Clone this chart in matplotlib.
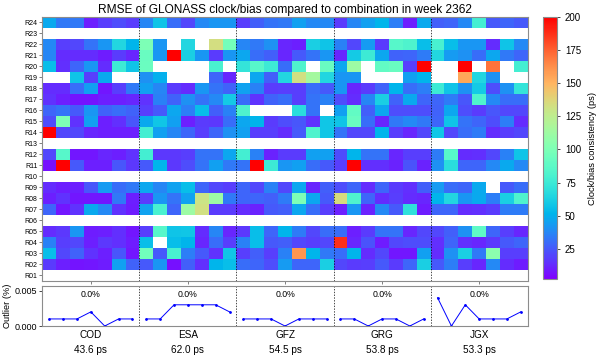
import numpy as np
import matplotlib
matplotlib.use('Agg')
import matplotlib.pyplot as plt

plt.rcParams['font.family'] = ['Liberation Sans', 'DejaVu Sans']

n = np.nan
centers = ['COD', 'ESA', 'GFZ', 'GRG', 'JGX']
mean_rmse = ['43.6 ps', '62.0 ps', '54.5 ps', '53.8 ps', '53.3 ps']
outlier_text = ['0.0%', '0.0%', '0.0%', '0.0%', '0.0%']
sats = ['R%02d' % i for i in range(1, 25)]
empty = [n] * 7

# RMSE per satellite (rows R24 at top down to R01) and day (7 columns), in ps
cod = [[48, 33, 33, 10, 18, 22, 18], empty,
       [38, 18, 20, 32, 42, 65, 52], [37, 13, 13, 13, 9, 17, 12],
       [55, 14, 28, 42, 13, 75, 57], [n, n, 57, 18, 48, n, n],
       [13, 13, 30, 45, 8, 18, 33], [15, 10, 7, 7, 10, 10, 12],
       [28, 32, 25, 42, 27, 30, 27], [22, 100, 15, 45, 10, 14, 24],
       [230, 20, 20, 12, 10, 10, 10], empty,
       [20, 85, 8, 8, 12, 10, 15], [6, 230, 25, 10, 10, 24, 16], empty,
       [13, 10, 10, 24, 43, 30, 33], [10, 15, 8, 8, 8, 33, 10],
       [28, 8, 15, 48, 38, 15, 9], empty,
       [13, 16, 42, 9, 10, 14, 8], [36, 18, 20, 10, 16, 14, 9],
       [55, 20, 27, 15, 10, 24, 8], [17, 10, 7, 8, 9, 45, 27], empty]

esa = [[37, 57, 30, 20, 38, 42, 42], empty,
       [100, 42, n, 65, n, 133, 97], [92, 42, 230, 62, 42, 17, 42],
       [93, n, n, n, n, 80, n], [40, 50, n, n, n, 28, 12],
       [45, 37, 17, 13, 42, 32, 27], [15, 36, 27, 40, 32, 38, 60],
       [18, 25, 47, 35, 55, 26, 36], [48, 58, 45, 10, 17, 16, 30],
       [78, 45, 37, 28, 18, 28, 40], empty,
       [78, 16, 16, 18, 32, 32, 47], [25, 52, 16, 22, 32, 45, 33], empty,
       [47, 37, 46, 55, 28, 20, 18], [17, 42, 32, 46, 130, 112, 33],
       [46, 80, 28, 112, 132, 17, 17], empty,
       [18, 85, 57, 58, 13, 37, 12], [55, n, 55, 52, 12, 30, 18],
       [95, 25, 80, 35, 25, 15, 58], [25, 42, 6, 26, 14, 52, 55], empty]

gfz = [[18, 26, 32, 33, 45, 38, 38], empty,
       [37, 33, 40, 12, 10, 62, 57], [47, 30, 26, 12, 25, 32, 42],
       [72, 85, 75, 30, 82, n, 92], [n, 47, 26, 65, 132, 115, 65],
       [46, 36, 17, 18, 18, 30, 25], [30, 15, 27, 30, 18, 32, 36],
       [82, n, n, n, 68, 32, n], [47, 52, 17, 22, 24, 15, 58],
       [45, 18, 18, 13, 25, 82, 58], empty,
       [78, 36, 11, 17, 17, 45, 45], [32, 230, 75, 42, 45, 30, 25], empty,
       [28, 20, 36, 20, 47, 12, 26], [28, 28, 26, 34, 100, 47, 25],
       [13, 11, 25, 26, 47, 30, 18], empty,
       [16, 55, 28, 52, 34, 20, 30], [36, 55, 25, 26, 20, 18, 20],
       [18, 26, 18, 36, 160, 52, 33], [30, 28, 22, 43, 28, 28, 62], empty]

grg = [[17, 37, 45, 52, 35, 10, 48], empty,
       [36, 20, 43, 17, 85, 82, 55], [12, 60, 75, 47, 27, 28, 34],
       [47, 112, n, 90, 92, 18, 230], [42, 42, n, n, n, 45, 52],
       [42, 12, 17, 27, 52, 30, 35], [22, 13, 37, 62, 27, 48, 28],
       [45, 90, 26, 47, 22, 22, 22], [57, 92, 30, 12, 33, 38, 33],
       [32, 20, 20, 52, 18, 12, 20], empty,
       [22, 52, 32, 32, 12, 18, 18], [18, 230, 14, 14, 11, 23, 11], empty,
       [22, 28, 13, 28, 17, 14, 26], [135, 82, 28, 13, 18, 13, 12],
       [10, 42, 11, 38, 25, 70, 9], empty,
       [30, 10, 17, 32, 32, 12, 20], [188, 12, 23, 9, 20, 22, 22],
       [30, 52, 13, 20, 8, 8, 45], [20, 17, 18, 25, 17, 28, 62], empty]

jgx = [[26, 28, 38, 78, 25, 28, 25], empty,
       [80, 55, 42, 42, 13, 57, 38], [65, 43, 40, 30, 47, 33, 28],
       [n, n, 230, n, 170, n, 78], [n, n, 155, 65, 40, n, n],
       [75, 57, 40, 60, 22, 40, 72], [28, 34, 24, 82, 38, 30, 30],
       [27, 47, 22, 17, 24, 20, 20], [28, 57, 32, 28, 22, 35, 13],
       [58, 20, 30, 34, 13, 18, 20], empty,
       [34, 85, 13, 14, 20, 36, 57], [40, 68, 28, 28, 38, 48, 38], empty,
       [43, 30, 28, 48, n, 25, 30], [52, 65, 42, 48, 35, 62, 82],
       [28, 28, 13, 14, 17, 34, 34], empty,
       [20, 26, 40, 88, 28, 18, 12], [14, 28, 14, 12, 16, 25, 28],
       [13, 40, 62, 33, 105, 18, 18], [25, 35, 18, 12, 38, 13, 9], empty]

# daily outlier rate (%)
out_cod = [0.001, 0.001, 0.001, 0.002, 0.000, 0.001, 0.001]
out_esa = [0.001, 0.001, 0.003, 0.003, 0.003, 0.003, 0.002]
out_gfz = [0.001, 0.001, 0.001, 0.000, 0.001, 0.001, 0.001]
out_grg = [0.001, 0.001, 0.000, 0.001, 0.001, 0.000, 0.001]
out_jgx = [0.004, 0.000, 0.003, 0.001, 0.001, 0.001, 0.002]

blocks = [cod, esa, gfz, grg, jgx]
outliers = [out_cod, out_esa, out_gfz, out_grg, out_jgx]
data = np.hstack([np.array(b, dtype=float)[::-1] for b in blocks])
ndays = 7

fig = plt.figure(figsize=(6, 3.6), dpi=100)
ax = fig.add_axes([0.0705, 0.2208, 0.809, 0.7325])
mesh = ax.pcolormesh(np.arange(data.shape[1] + 1), np.arange(data.shape[0] + 1), data,
                     cmap='rainbow', vmin=2, vmax=200)
ax.set_xlim(0, data.shape[1])
ax.set_ylim(0, data.shape[0])
ax.set_yticks(np.arange(len(sats)) + 0.5)
ax.set_yticklabels(sats, fontsize=5)
ax.set_xticks(np.arange(len(centers)) * ndays + ndays / 2)
ax.set_xticklabels([])
ax.tick_params(length=2, width=0.5, pad=1.5, colors='0.3', labelcolor='k')
for s in ax.spines.values():
    s.set_color('0.55')
for k in range(1, len(centers)):
    ax.axvline(k * ndays, color='k', ls=(0, (2, 2)), lw=0.5)
ax.set_title('RMSE of GLONASS clock/bias compared to combination in week 2362',
             fontsize=8.6, pad=3)

cax = fig.add_axes([0.9055, 0.225, 0.0223, 0.727])
cb = fig.colorbar(mesh, cax=cax)
cb.set_ticks([25, 50, 75, 100, 125, 150, 175, 200])
cb.ax.tick_params(labelsize=7, length=2.5, width=0.5)
cb.outline.set_edgecolor('0.55')
cb.set_label('Clock/bias consistency (ps)', fontsize=6.7, labelpad=5)

ax2 = fig.add_axes([0.0705, 0.0944, 0.809, 0.112])
for k, vals in enumerate(outliers):
    x = k * ndays + np.arange(ndays) + 0.5
    ax2.plot(x, vals, color='blue', lw=0.7, marker='.', ms=2)
    ax2.text(k * ndays + ndays / 2, 0.0044, outlier_text[k], ha='center', va='center', fontsize=6.3)
for k in range(1, len(centers)):
    ax2.axvline(k * ndays, color='k', ls=(0, (2, 2)), lw=0.5)
ax2.set_xlim(0, data.shape[1])
ax2.set_ylim(0, 0.0057)
ax2.set_yticks([0, 0.005])
ax2.set_yticklabels(['0.000', '0.005'])
ax2.set_xticks(np.arange(len(centers)) * ndays + ndays / 2)
ax2.set_xticklabels([c + '\n' + r for c, r in zip(centers, mean_rmse)], fontsize=7.2, linespacing=1.6)
ax2.tick_params(axis='x', length=0, pad=3)
ax2.tick_params(axis='y', labelsize=6.5, length=2, width=0.5, pad=1.5)
for s in ax2.spines.values():
    s.set_color('0.55')
ax2.set_ylabel('Outlier (%)', fontsize=6.7, labelpad=2)

fig.savefig('out.png', dpi=100)
